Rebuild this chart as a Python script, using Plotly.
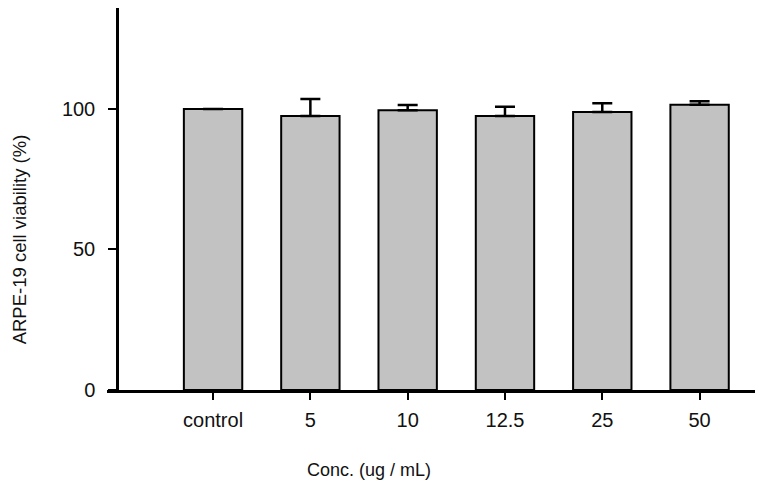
import plotly.graph_objects as go

categories = ["control", "5", "10", "12.5", "25", "50"]
viability = [100.0, 97.5, 99.5, 97.5, 98.9, 101.5]
sem_upper = [0.0, 6.0, 1.9, 3.3, 3.1, 1.2]

FONT = "Liberation Sans, Arial, sans-serif"

# the page body has an 8px margin, so the figure is 8px smaller each way
fig = go.Figure()
fig.add_trace(go.Bar(
    x=categories,
    y=viability,
    width=0.6,
    marker=dict(color="#c2c2c2", line=dict(color="black", width=2)),
    error_y=dict(type="data", symmetric=False, array=sem_upper,
                 arrayminus=[0] * len(sem_upper), color="black",
                 thickness=2.5, width=10),
    showlegend=False,
))

fig.update_xaxes(
    type="category",
    range=[-1.09, 5.59],
    showline=True, linecolor="black", linewidth=2.5,
    ticks="outside", ticklen=7, tickwidth=2, tickcolor="black",
    ticklabelstandoff=3,
    tickfont=dict(family=FONT, size=20, color="#111"),
    showgrid=False, zeroline=False,
)
fig.update_yaxes(
    range=[0, 135.9],
    anchor="free", position=0.0154,
    showline=True, linecolor="black", linewidth=2.5,
    ticks="outside", ticklen=8, tickwidth=2, tickcolor="black",
    tickvals=[0, 50, 100],
    ticklabelstandoff=9,
    tickfont=dict(family=FONT, size=20, color="#111"),
    showgrid=False, zeroline=False,
)

fig.add_annotation(text="ARPE-19 cell viability (%)", textangle=-90,
                   xref="paper", yref="paper", x=-0.135, y=0.395,
                   xanchor="center", yanchor="middle", showarrow=False,
                   font=dict(family=FONT, size=18.5, color="#111"))
fig.add_annotation(text="Conc. (ug / mL)",
                   xref="paper", yref="paper", x=0.403, y=-0.21,
                   xanchor="center", yanchor="middle", showarrow=False,
                   font=dict(family=FONT, size=18, color="#111"))

fig.update_layout(
    width=755, height=493,
    margin=dict(l=99, r=6, t=0, b=111),
    plot_bgcolor="white", paper_bgcolor="white",
)

fig.write_html("out.html")
